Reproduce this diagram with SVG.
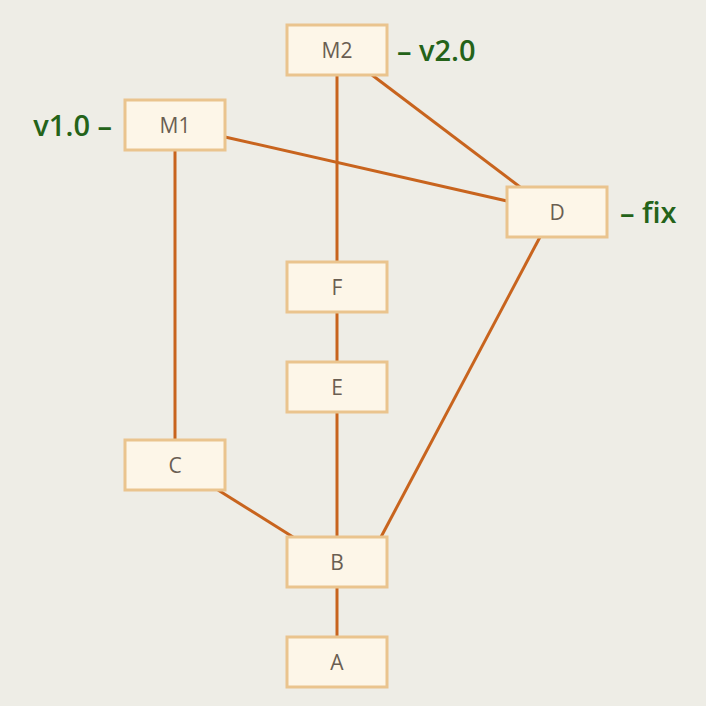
<svg xmlns="http://www.w3.org/2000/svg" width="706" height="706" viewBox="0 0 706 706">
<style>
.bg{fill:#eeede6}
.box{fill:#fdf6e8;stroke:#eac48e;stroke-width:3}
.lbl{font-family:"Open Sans","Noto Sans",sans-serif;font-size:21px;fill:#6a5e52;text-anchor:middle;dominant-baseline:central}
.tag{font-family:"Open Sans","Noto Sans",sans-serif;font-size:29px;font-weight:600;fill:#246319;dominant-baseline:central}
.edge{stroke:#c8641e;stroke-width:3;fill:none}
</style>
<rect class="bg" width="706" height="706"/>
<g id="connectors">
<line class="edge" x1="337" y1="75" x2="337" y2="262"/>
<line class="edge" x1="372" y1="75" x2="520" y2="187"/>
<line class="edge" x1="225" y1="137" x2="507" y2="201"/>
<line class="edge" x1="175" y1="150" x2="175" y2="440"/>
<line class="edge" x1="337" y1="312" x2="337" y2="362"/>
<line class="edge" x1="337" y1="412" x2="337" y2="537"/>
<line class="edge" x1="218" y1="490" x2="293" y2="537"/>
<line class="edge" x1="540" y1="237" x2="381" y2="537"/>
<line class="edge" x1="337" y1="587" x2="337" y2="637"/>
</g>
<g id="M2"><rect class="box" x="287" y="25" width="100" height="50"/><text class="lbl" x="337" y="50">M2</text><text class="tag" x="397" y="49">– v2.0</text></g>
<g id="M1"><rect class="box" x="125" y="100" width="100" height="50"/><text class="lbl" x="175" y="125">M1</text><text class="tag" x="112" y="124" text-anchor="end">v1.0 –</text></g>
<g id="D"><rect class="box" x="507" y="187" width="100" height="50"/><text class="lbl" x="557" y="212">D</text><text class="tag" x="620" y="211">– fix</text></g>
<g id="F"><rect class="box" x="287" y="262" width="100" height="50"/><text class="lbl" x="337" y="287">F</text></g>
<g id="E"><rect class="box" x="287" y="362" width="100" height="50"/><text class="lbl" x="337" y="387">E</text></g>
<g id="C"><rect class="box" x="125" y="440" width="100" height="50"/><text class="lbl" x="175" y="465">C</text></g>
<g id="B"><rect class="box" x="287" y="537" width="100" height="50"/><text class="lbl" x="337" y="562">B</text></g>
<g id="A"><rect class="box" x="287" y="637" width="100" height="50"/><text class="lbl" x="337" y="662">A</text></g>
</svg>
